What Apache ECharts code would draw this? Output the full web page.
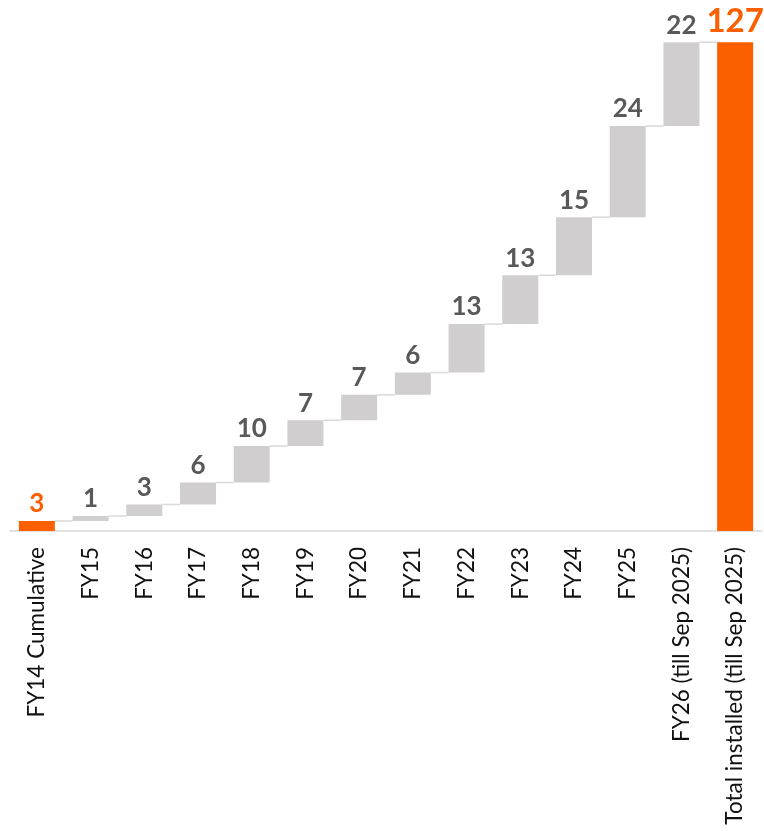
<!DOCTYPE html>
<html>
<head>
<meta charset="utf-8">
<script src="https://cdn.jsdelivr.net/npm/echarts@6/dist/echarts.min.js"></script>
<style>
  html, body { margin: 0; padding: 0; background: #fff; }
  #chart { width: 764px; height: 831px; }
</style>
</head>
<body>
<div id="chart"></div>
<script>
/* Waterfall: FY14 cumulative, yearly additions, total installed. */
(function () {
  "use strict";

  const ORANGE = "#fc5f00";
  const GREY_BAR = "#d0cece";
  const GREY_TEXT = "#595959";
  const LINE = "#d9d9d9";
  const FONT = "Lato, 'Open Sans', sans-serif";
  const BAR_RATIO = 0.67;

  const categories = [
    "FY14 Cumulative", "FY15", "FY16", "FY17", "FY18", "FY19", "FY20",
    "FY21", "FY22", "FY23", "FY24", "FY25", "FY26 (till Sep 2025)",
    "Total installed (till Sep 2025)",
  ];
  // first entry is the FY14 opening cumulative, the rest are yearly additions
  const steps = [2.6, 1.3, 3.0, 5.7, 9.5, 6.7, 6.6, 5.8, 12.6, 12.7, 15.1, 23.7, 21.8];
  const total = 127.1;

  // offsets (invisible) and visible heights
  const offsets = [];
  const heights = [];
  let run = 0;
  steps.forEach((v, i) => {
    offsets.push(i === 0 ? 0 : run);
    heights.push(v);
    run += v;
  });
  offsets.push(0);
  heights.push(total);

  const tops = offsets.map((o, i) => o + heights[i]);
  const connectors = tops.slice(0, -1).map((t, i) => [i, t]);

  const isEnd = (i) => i === 0 || i === heights.length - 1;

  const inst = echarts.init(document.getElementById("chart"), null, { renderer: "canvas" });
  inst.setOption({
    animation: false,
    grid: { left: 10, right: 2, top: 31, bottom: 300 },
    xAxis: {
      type: "category", data: categories,
      axisTick: { show: false },
      axisLine: { lineStyle: { color: LINE, width: 1.5 } },
      axisLabel: {
        interval: 0, rotate: 90, margin: 16,
        color: "#111", fontSize: 22.5, fontFamily: FONT,
      },
    },
    yAxis: {
      type: "value", min: 0, max: 130, show: false,
      splitLine: { show: false },
    },
    series: [
      {
        type: "bar", stack: "w", silent: true,
        barWidth: BAR_RATIO * 100 + "%",
        itemStyle: { color: "transparent" },
        data: offsets,
      },
      {
        type: "bar", stack: "w",
        barWidth: BAR_RATIO * 100 + "%",
        data: heights.map((v, i) => ({
          value: v,
          itemStyle: { color: isEnd(i) ? ORANGE : GREY_BAR },
          label: {
            color: isEnd(i) ? ORANGE : GREY_TEXT,
            fontSize: i === heights.length - 1 ? 33 : 26,
          },
        })),
        label: {
          show: true, position: "top", distance: 4,
          fontWeight: "bold", fontFamily: FONT,
          formatter: (p) => Math.round(p.value),
        },
        z: 3,
      },
      {
        type: "custom", silent: true, z: 2,
        data: connectors,
        renderItem: (params, api) => {
          const i = api.value(0);
          const v = api.value(1);
          const a = api.coord([i, v]);
          const b = api.coord([i + 1, v]);
          const half = api.size([1, 0])[0] * BAR_RATIO / 2;
          return {
            type: "line",
            shape: { x1: a[0] + half, y1: a[1], x2: b[0] - half, y2: b[1] },
            style: { stroke: LINE, lineWidth: 1.5 },
          };
        },
      },
    ],
  });
})();
</script>
</body>
</html>
